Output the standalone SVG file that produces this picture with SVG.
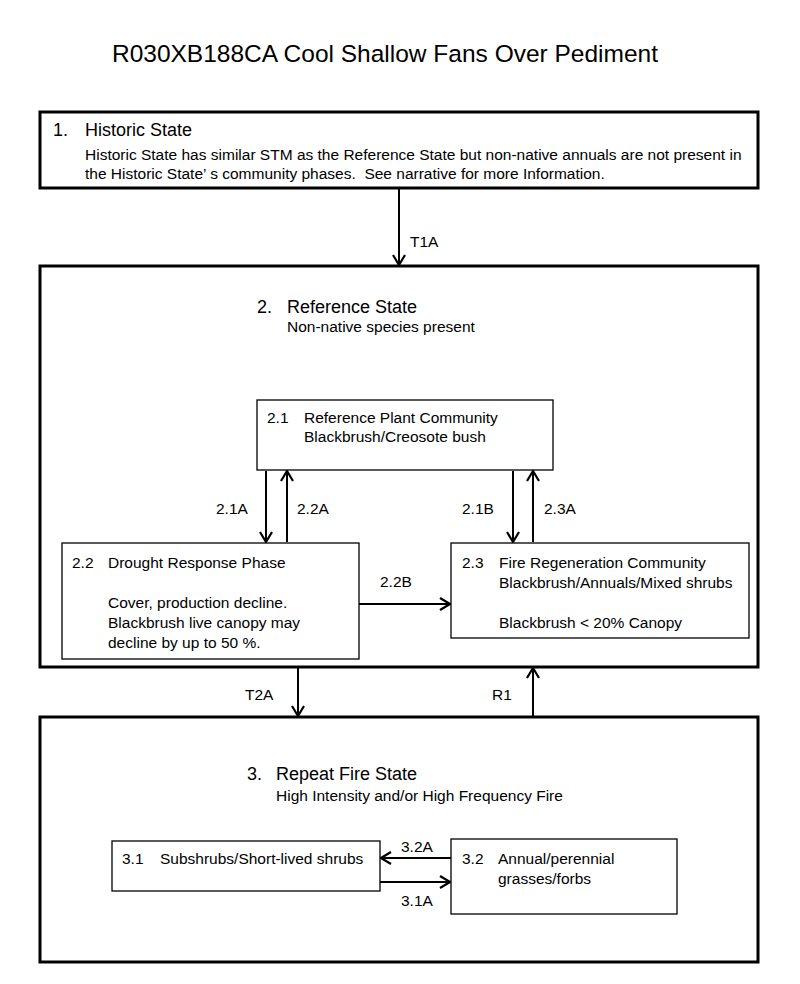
<svg xmlns="http://www.w3.org/2000/svg" width="800" height="984" viewBox="0 0 800 984">
<style>
text{font-family:"Liberation Sans",Arial,sans-serif;fill:#000}
.title{font-size:24.5px}
.h{font-size:18px}
.b{font-size:15.5px}
.state{fill:#fff;stroke:#000;stroke-width:3}
.phase{fill:#fff;stroke:#000;stroke-width:1.3}
.conn line{stroke:#000;stroke-width:2;marker-end:url(#ah)}
</style>
<defs>
<marker id="ah" viewBox="0 0 12 14" markerWidth="12" markerHeight="14" refX="11" refY="7" orient="auto" markerUnits="userSpaceOnUse">
<path d="M1,1 L11,7 L1,13" fill="none" stroke="#000" stroke-width="2.2"/>
</marker>
</defs>
<rect width="800" height="984" fill="#fff"/>
<text class="title" x="385" y="62" text-anchor="middle">R030XB188CA Cool Shallow Fans Over Pediment</text>

<g id="state1">
<rect class="state" x="40" y="112" width="718" height="76"/>
<text class="h" x="53" y="136">1.</text>
<text class="h" x="85" y="136">Historic State</text>
<text class="b" x="85" y="160">Historic State has similar STM as the Reference State but non-native annuals are not present in</text>
<text class="b" x="85" y="179" xml:space="preserve">the Historic State’ s community phases.  See narrative for more Information.</text>
</g>

<g id="state2">
<rect class="state" x="40" y="266" width="718" height="401"/>
<text class="h" x="257" y="313">2.</text>
<text class="h" x="287" y="313">Reference State</text>
<text class="b" x="287" y="332">Non-native species present</text>
</g>

<g id="phase2_1">
<rect class="phase" x="257" y="400" width="296" height="70"/>
<text class="b" x="267" y="423">2.1</text>
<text class="b" x="304" y="423">Reference Plant Community</text>
<text class="b" x="304" y="442">Blackbrush/Creosote bush</text>
</g>

<g id="phase2_2">
<rect class="phase" x="62" y="543" width="297" height="116"/>
<text class="b" x="72" y="568">2.2</text>
<text class="b" x="108" y="568">Drought Response Phase</text>
<text class="b" x="108" y="608">Cover, production decline.</text>
<text class="b" x="108" y="628">Blackbrush live canopy may</text>
<text class="b" x="108" y="648">decline by up to 50 %.</text>
</g>

<g id="phase2_3">
<rect class="phase" x="451" y="543" width="298" height="95"/>
<text class="b" x="462" y="568">2.3</text>
<text class="b" x="499" y="568">Fire Regeneration Community</text>
<text class="b" x="499" y="588">Blackbrush/Annuals/Mixed shrubs</text>
<text class="b" x="499" y="628">Blackbrush &lt; 20% Canopy</text>
</g>

<g id="state3">
<rect class="state" x="40" y="717" width="718" height="245"/>
<text class="h" x="247" y="780">3.</text>
<text class="h" x="276" y="780">Repeat Fire State</text>
<text class="b" x="276" y="801">High Intensity and/or High Frequency Fire</text>
</g>

<g id="phase3_1">
<rect class="phase" x="112" y="841" width="268" height="50"/>
<text class="b" x="122" y="864">3.1</text>
<text class="b" x="160" y="864">Subshrubs/Short-lived shrubs</text>
</g>

<g id="phase3_2">
<rect class="phase" x="451" y="839" width="226" height="75"/>
<text class="b" x="462" y="864">3.2</text>
<text class="b" x="498" y="864">Annual/perennial</text>
<text class="b" x="498" y="884">grasses/forbs</text>
</g>

<g id="connectors" class="conn">
<line x1="399" y1="189" x2="399" y2="265"/>
<line x1="266" y1="471" x2="266" y2="542"/>
<line x1="287" y1="542" x2="287" y2="471"/>
<line x1="513" y1="471" x2="513" y2="542"/>
<line x1="533" y1="542" x2="533" y2="471"/>
<line x1="359" y1="604" x2="450" y2="604"/>
<line x1="298" y1="668" x2="298" y2="716"/>
<line x1="533" y1="716" x2="533" y2="668"/>
<line x1="451" y1="858" x2="381" y2="858"/>
<line x1="380" y1="882" x2="450" y2="882"/>
</g>
<g id="labels">
<text class="b" x="410" y="247">T1A</text>
<text class="b" x="216" y="514">2.1A</text>
<text class="b" x="297" y="514">2.2A</text>
<text class="b" x="462" y="514">2.1B</text>
<text class="b" x="544" y="514">2.3A</text>
<text class="b" x="380" y="587">2.2B</text>
<text class="b" x="245" y="700">T2A</text>
<text class="b" x="492" y="700">R1</text>
<text class="b" x="401" y="852">3.2A</text>
<text class="b" x="401" y="906">3.1A</text>
</g>
</svg>
